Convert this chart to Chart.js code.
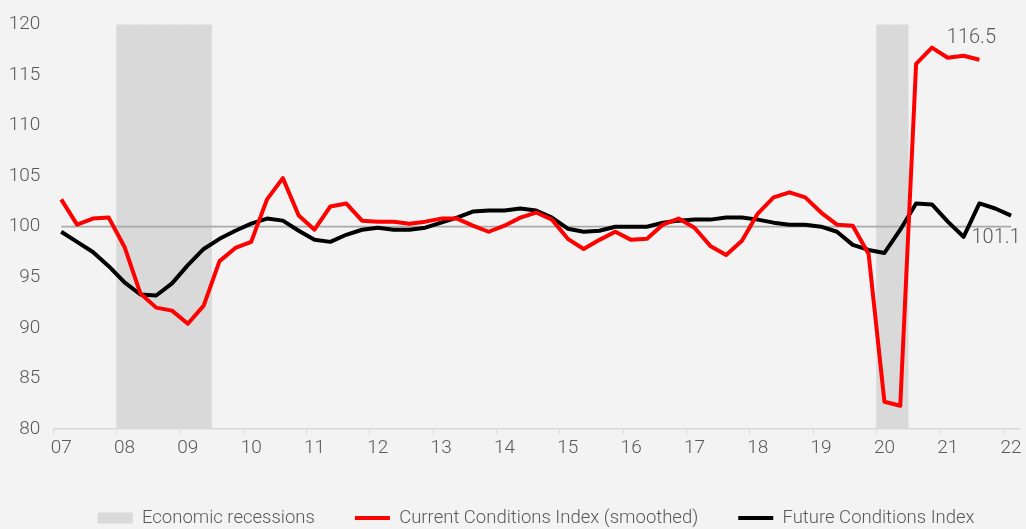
<!DOCTYPE html>
<html>
<head>
<meta charset="utf-8">
<script src="https://cdn.jsdelivr.net/npm/chart.js@4.4.1/dist/chart.umd.min.js"></script>
<style>
  html, body { margin: 0; padding: 0; background: #f3f3f3; }
</style>
</head>
<body>
<canvas id="chart" width="1026" height="529"></canvas>
<script>
// quarterly, Q1 2007 .. Q1 2022
const years = ["07", "08", "09", "10", "11", "12", "13", "14", "15", "16", "17", "18", "19", "20", "21", "22"];
const quarters = years.flatMap((y) => ["Q1", "Q2", "Q3", "Q4"].map((q) => y + q)).slice(0, 61);

const recessionQuarters = ["08Q1", "08Q2", "08Q3", "08Q4", "09Q1", "09Q2", "20Q1", "20Q2"];

const currentIndex = [
  102.7, 100.2, 100.8, 100.9,
  98.0, 93.4, 92.0, 91.7,
  90.4, 92.2, 96.6, 97.9,
  98.5, 102.7, 104.8, 101.1,
  99.7, 102.0, 102.3, 100.6,
  100.5, 100.5, 100.3, 100.5,
  100.8, 100.8, 100.1, 99.5,
  100.1, 100.9, 101.4, 100.7,
  98.8, 97.8, 98.7, 99.5,
  98.7, 98.8, 100.2, 100.8,
  99.9, 98.1, 97.2, 98.6,
  101.3, 102.9, 103.4, 102.9,
  101.4, 100.2, 100.1, 97.3,
  82.7, 82.3, 116.1, 117.7,
  116.7, 116.9, 116.5,
];

const futureIndex = [
  99.5, 98.5, 97.5, 96.1,
  94.5, 93.3, 93.2, 94.4,
  96.2, 97.8, 98.8, 99.6,
  100.3, 100.8, 100.6, 99.6,
  98.7, 98.5, 99.2, 99.7,
  99.9, 99.7, 99.7, 99.9,
  100.4, 100.9, 101.5, 101.6,
  101.6, 101.8, 101.6, 100.9,
  99.8, 99.5, 99.6, 100.0,
  100.0, 100.0, 100.4, 100.6,
  100.7, 100.7, 100.9, 100.9,
  100.7, 100.4, 100.2, 100.2,
  100.0, 99.5, 98.2, 97.7,
  97.4, 99.7, 102.3, 102.2,
  100.5, 99.0, 102.3, 101.8,
  101.1,
];

const baseline = 100;
const yMin = 80;
const yMax = 120;
const yStep = 5;

const textColor = "#595959";
const font = "Roboto";

// value labels at the end of both series
const endLabels = {
  id: "endLabels",
  afterDatasetsDraw(chart) {
    const { ctx } = chart;
    const marks = [
      { ds: 1, dx: -8, dy: -22 },
      { ds: 2, dx: -15, dy: 22 },
    ];
    ctx.save();
    ctx.font = "300 20px " + font;
    ctx.fillStyle = textColor;
    ctx.textAlign = "center";
    ctx.textBaseline = "middle";
    marks.forEach((m) => {
      const data = chart.data.datasets[m.ds].data;
      const last = data.length - 1;
      const pt = chart.getDatasetMeta(m.ds).data[last];
      ctx.fillText(data[last].toFixed(1), pt.x + m.dx, pt.y + m.dy);
    });
    ctx.restore();
  },
};

new Chart(document.getElementById("chart"), {
  data: {
    labels: quarters,
    datasets: [
      {
        type: "bar",
        label: "Economic recessions",
        data: quarters.map((q) => (recessionQuarters.includes(q) ? [yMin, yMax] : null)),
        backgroundColor: "#d9d9d9",
        borderWidth: 0,
        barPercentage: 1,
        categoryPercentage: 1,
        order: 4,
      },
      {
        type: "line",
        label: "Current Conditions Index (smoothed)",
        data: currentIndex,
        borderColor: "#ff0000",
        backgroundColor: "#ff0000",
        borderWidth: 4,
        borderJoinStyle: "round",
        pointRadius: 0,
        tension: 0,
        order: 1,
      },
      {
        type: "line",
        label: "Future Conditions Index",
        data: futureIndex,
        borderColor: "#000000",
        backgroundColor: "#000000",
        borderWidth: 4,
        borderJoinStyle: "round",
        pointRadius: 0,
        tension: 0,
        order: 2,
      },
      {
        type: "line",
        label: "base",
        data: quarters.map(() => baseline),
        borderColor: "#a9a9a9",
        borderWidth: 1.75,
        pointRadius: 0,
        order: 3,
      },
    ],
  },
  options: {
    responsive: false,
    animation: false,
    layout: {
      padding: { top: 19, right: 7, bottom: 0, left: 0 },
    },
    scales: {
      x: {
        offset: true,
        grid: {
          offset: true,
          drawOnChartArea: false,
          tickLength: 5,
          color: (c) => (c.index % 4 === 0 ? "#d9d9d9" : "rgba(0,0,0,0)"),
        },
        border: { color: "#d9d9d9", width: 1.5 },
        ticks: {
          autoSkip: false,
          maxRotation: 0,
          padding: 3,
          color: textColor,
          font: { family: font, weight: "300", size: 19 },
          callback: (v, i) => (quarters[i].endsWith("Q1") ? quarters[i].slice(0, 2) : ""),
        },
        afterFit: (scale) => {
          scale.height = 39.75;
        },
      },
      y: {
        min: yMin,
        max: yMax,
        grid: { display: false, drawTicks: false },
        border: { display: false },
        ticks: {
          stepSize: yStep,
          padding: 13,
          color: textColor,
          font: { family: font, weight: "300", size: 19 },
        },
        afterFit: (scale) => {
          scale.width = 53.3;
        },
      },
    },
    plugins: {
      tooltip: { enabled: false },
      legend: {
        position: "bottom",
        fullSize: false,
        maxHeight: 60.25,
        labels: {
          usePointStyle: true,
          pointStyleWidth: 35,
          boxHeight: 11,
          padding: 40,
          color: textColor,
          font: { family: font, weight: "300", size: 18.5 },
          generateLabels(chart) {
            return Chart.defaults.plugins.legend.labels
              .generateLabels(chart)
              .filter((item) => item.datasetIndex < 3)
              .sort((a, b) => a.datasetIndex - b.datasetIndex)
              .map((item) => {
                const ds = chart.data.datasets[item.datasetIndex];
                if (ds.type === "bar") {
                  item.pointStyle = "rect";
                  item.fillStyle = ds.backgroundColor;
                  item.lineWidth = 0;
                } else {
                  item.pointStyle = "line";
                  item.strokeStyle = ds.borderColor;
                  item.lineWidth = 4;
                }
                return item;
              });
          },
        },
      },
    },
  },
  plugins: [endLabels],
});
</script>
</body>
</html>
